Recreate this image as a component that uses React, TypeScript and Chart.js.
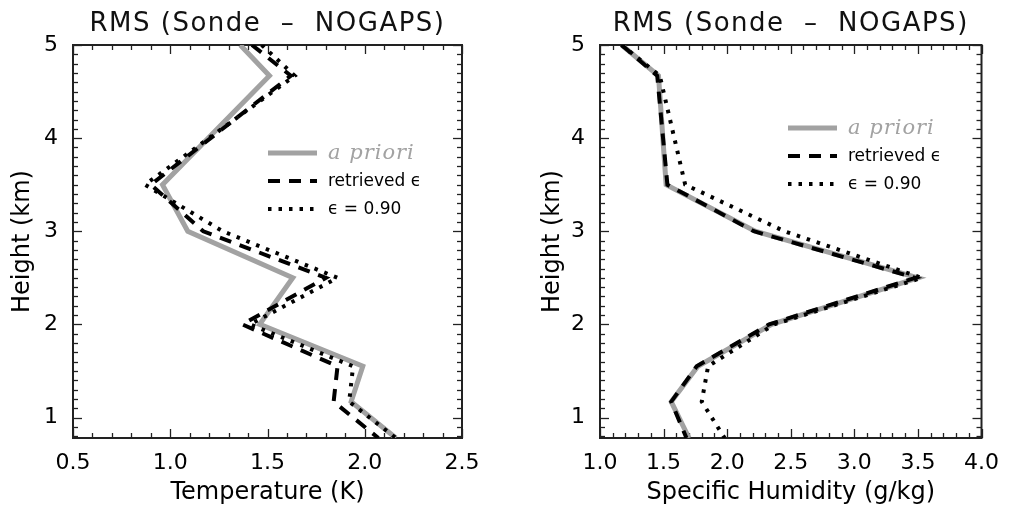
import React, { useEffect, useRef } from "react";
import { Chart, registerables } from "chart.js";

Chart.register(...registerables);

// ---- Data ----
const heightLevels = [5.0, 4.67, 3.5, 3.0, 2.5, 2.0, 1.55, 1.17, 0.78];

const tempApriori = [1.36, 1.51, 0.96, 1.09, 1.63, 1.46, 1.99, 1.93, 2.16];
const tempRetrieved = [1.42, 1.62, 0.9, 1.17, 1.8, 1.37, 1.86, 1.84, 2.07];
const tempEps090 = [1.47, 1.64, 0.87, 1.27, 1.86, 1.41, 1.94, 1.92, 2.16];

const humApriori = [1.17, 1.46, 1.52, 2.22, 3.5, 2.35, 1.77, 1.56, 1.7];
const humRetrieved = [1.17, 1.45, 1.53, 2.21, 3.48, 2.33, 1.76, 1.56, 1.68];
const humEps090 = [1.17, 1.47, 1.67, 2.45, 3.53, 2.37, 1.85, 1.8, 1.98];

const seriesLabels = ["a priori", "retrieved \u03F5", "\u03F5 = 0.90"];
const panelTitle = "RMS (Sonde  \u2013  NOGAPS)";
const yTitle = "Height (km)";
const tempTitle = "Temperature (K)";
const humTitle = "Specific Humidity (g/kg)";

const FONT = "'DejaVu Sans', 'Liberation Sans', sans-serif";

// ---- Plugins ----
const boxPlugin = {
  id: "idlBox",
  beforeDatasetsDraw(chart: any, _args: any, opts: any) {
    const { ctx, chartArea: a, scales } = chart;
    const xs = scales.x;
    const ys = scales.y;
    ctx.save();
    ctx.strokeStyle = "#222";
    ctx.lineWidth = 1.3;
    const seg = (x1: number, y1: number, x2: number, y2: number) => {
      ctx.beginPath();
      ctx.moveTo(x1, y1);
      ctx.lineTo(x2, y2);
      ctx.stroke();
    };
    const isMajor = (v: number, step: number) =>
      Math.abs(v / step - Math.round(v / step)) < 1e-6;
    const x0 = Math.ceil(xs.min / opts.xMinor - 1e-6) * opts.xMinor;
    for (let v = x0; v <= xs.max + 1e-9; v += opts.xMinor) {
      const px = Math.round(xs.getPixelForValue(v)) + 0.5;
      const len = isMajor(v, opts.xMajor) ? opts.majorLen : opts.minorLen;
      seg(px, a.bottom, px, a.bottom - len);
      seg(px, a.top, px, a.top + len);
    }
    const y0 = Math.ceil(ys.min / opts.yMinor - 1e-6) * opts.yMinor;
    for (let v = y0; v <= ys.max + 1e-9; v += opts.yMinor) {
      const py = Math.round(ys.getPixelForValue(v)) + 0.5;
      const len = isMajor(v, opts.yMajor) ? opts.majorLen : opts.minorLen;
      seg(a.left, py, a.left + len, py);
      seg(a.right, py, a.right - len, py);
    }
    ctx.lineWidth = 2;
    ctx.strokeRect(a.left, a.top, a.right - a.left, a.bottom - a.top);
    ctx.restore();
  },
};

const titlePlugin = {
  id: "idlTitle",
  afterDraw(chart: any, _args: any, opts: any) {
    const { ctx, chartArea: a } = chart;
    ctx.save();
    ctx.font = opts.font;
    ctx.fillStyle = "#111";
    ctx.textAlign = "center";
    ctx.textBaseline = "middle";
    try {
      (ctx as any).letterSpacing = opts.letterSpacing;
    } catch (e) {}
    ctx.fillText(opts.text, (a.left + a.right) / 2, opts.y);
    ctx.restore();
  },
};

const legendPlugin = {
  id: "idlLegend",
  afterDatasetsDraw(chart: any, _args: any, opts: any) {
    const { ctx, chartArea: a } = chart;
    ctx.save();
    chart.data.datasets.forEach((ds: any, i: number) => {
      const y = a.top + opts.top + i * opts.rowGap;
      const x = a.left + opts.left;
      ctx.save();
      ctx.strokeStyle = ds.borderColor;
      ctx.lineWidth = ds.borderWidth;
      ctx.setLineDash(ds.borderDash || []);
      ctx.lineCap = "butt";
      ctx.beginPath();
      ctx.moveTo(x, y);
      ctx.lineTo(x + opts.lineLen, y);
      ctx.stroke();
      ctx.restore();
      const f = opts.fonts[i];
      ctx.save();
      ctx.font = f.font;
      ctx.fillStyle = f.color;
      ctx.textAlign = "left";
      ctx.textBaseline = "middle";
      try {
        (ctx as any).letterSpacing = f.spacing || "0px";
      } catch (e) {}
      ctx.fillText(ds.label, x + opts.lineLen + opts.gap, y + 1);
      ctx.restore();
    });
    ctx.restore();
  },
};

type PanelProps = {
  width: number;
  xMin: number;
  xMax: number;
  xTitle: string;
  values: number[][];
  padLeft: number;
  padRight: number;
  yAxisWidth: number;
  legendLeft: number;
  legendTop: number;
};

function Panel(p: PanelProps) {
  const ref = useRef<HTMLCanvasElement | null>(null);
  useEffect(() => {
    if (!ref.current) return;
    const styles = [
      { color: "#a2a2a2", width: 5, dash: [] as number[], order: 3 },
      { color: "#000", width: 4, dash: [12, 9], order: 2 },
      { color: "#000", width: 4, dash: [3.5, 7], order: 1 },
    ];
    const datasets = p.values.map((vals, i) => ({
      label: seriesLabels[i],
      data: vals.map((v, k) => ({ x: v, y: heightLevels[k] })),
      borderColor: styles[i].color,
      borderWidth: styles[i].width,
      borderDash: styles[i].dash,
      order: styles[i].order,
      pointRadius: 0,
      tension: 0,
      fill: false,
      borderCapStyle: "butt",
      borderJoinStyle: "miter",
    }));
    const chart = new Chart(ref.current, {
      type: "line",
      data: { datasets },
      plugins: [boxPlugin, titlePlugin, legendPlugin],
      options: {
        animation: false,
        responsive: false,
        maintainAspectRatio: false,
        layout: {
          padding: { left: p.padLeft, right: p.padRight, top: 45, bottom: 0 },
        },
        plugins: {
          legend: { display: false },
          title: { display: false },
          tooltip: { enabled: false },
          idlBox: {
            xMinor: 0.1,
            xMajor: 0.5,
            yMinor: 0.1,
            yMajor: 1,
            majorLen: 9,
            minorLen: 5,
          },
          idlTitle: {
            text: panelTitle,
            font: `26px ${FONT}`,
            y: 24,
            letterSpacing: "1.5px",
          },
          idlLegend: {
            left: p.legendLeft,
            top: p.legendTop,
            rowGap: 28,
            lineLen: 49,
            gap: 11,
            fonts: [
              {
                font: `italic 21px 'DejaVu Serif', serif`,
                color: "#a2a2a2",
                spacing: "1px",
              },
              { font: `17px ${FONT}`, color: "#000" },
              { font: `17px ${FONT}`, color: "#000" },
            ],
          },
        } as any,
        scales: {
          x: {
            type: "linear",
            min: p.xMin,
            max: p.xMax,
            grid: { display: false, drawTicks: false },
            border: { display: false },
            ticks: {
              stepSize: 0.5,
              autoSkip: false,
              maxRotation: 0,
              padding: 12,
              color: "#000",
              font: { family: FONT, size: 22 },
              callback: (v: any) => Number(v).toFixed(1),
            },
            title: {
              display: true,
              text: p.xTitle,
              color: "#000",
              font: { family: FONT, size: 24 },
              padding: { top: 0, bottom: 3 },
            },
            afterFit: (s: any) => {
              s.height = 72;
            },
          },
          y: {
            type: "linear",
            min: 0.78,
            max: 5.0,
            grid: { display: false, drawTicks: false },
            border: { display: false },
            ticks: {
              stepSize: 1,
              includeBounds: false,
              padding: 15,
              color: "#000",
              font: { family: FONT, size: 22 },
              callback: (v: any) => String(v),
            },
            title: {
              display: true,
              text: yTitle,
              color: "#000",
              font: { family: FONT, size: 24 },
              padding: { top: 8, bottom: 0 },
            },
            afterFit: (s: any) => {
              s.width = p.yAxisWidth;
            },
          },
        },
      } as any,
    });
    return () => chart.destroy();
  }, []);
  return (
    <canvas
      ref={ref}
      width={p.width}
      height={510}
      style={{ width: p.width, height: 510, display: "block" }}
    />
  );
}

export default function App() {
  return (
    <div
      style={{
        position: "absolute",
        left: 0,
        top: 0,
        width: 1011,
        height: 510,
        background: "#fff",
        display: "flex",
      }}
    >
      <Panel
        width={505}
        xMin={0.5}
        xMax={2.5}
        xTitle={tempTitle}
        values={[tempApriori, tempRetrieved, tempEps090]}
        padLeft={0}
        padRight={43}
        yAxisWidth={73}
        legendLeft={195}
        legendTop={108}
      />
      <Panel
        width={506}
        xMin={1.0}
        xMax={4.0}
        xTitle={humTitle}
        values={[humApriori, humRetrieved, humEps090]}
        padLeft={25}
        padRight={19}
        yAxisWidth={70}
        legendLeft={188}
        legendTop={83}
      />
    </div>
  );
}
